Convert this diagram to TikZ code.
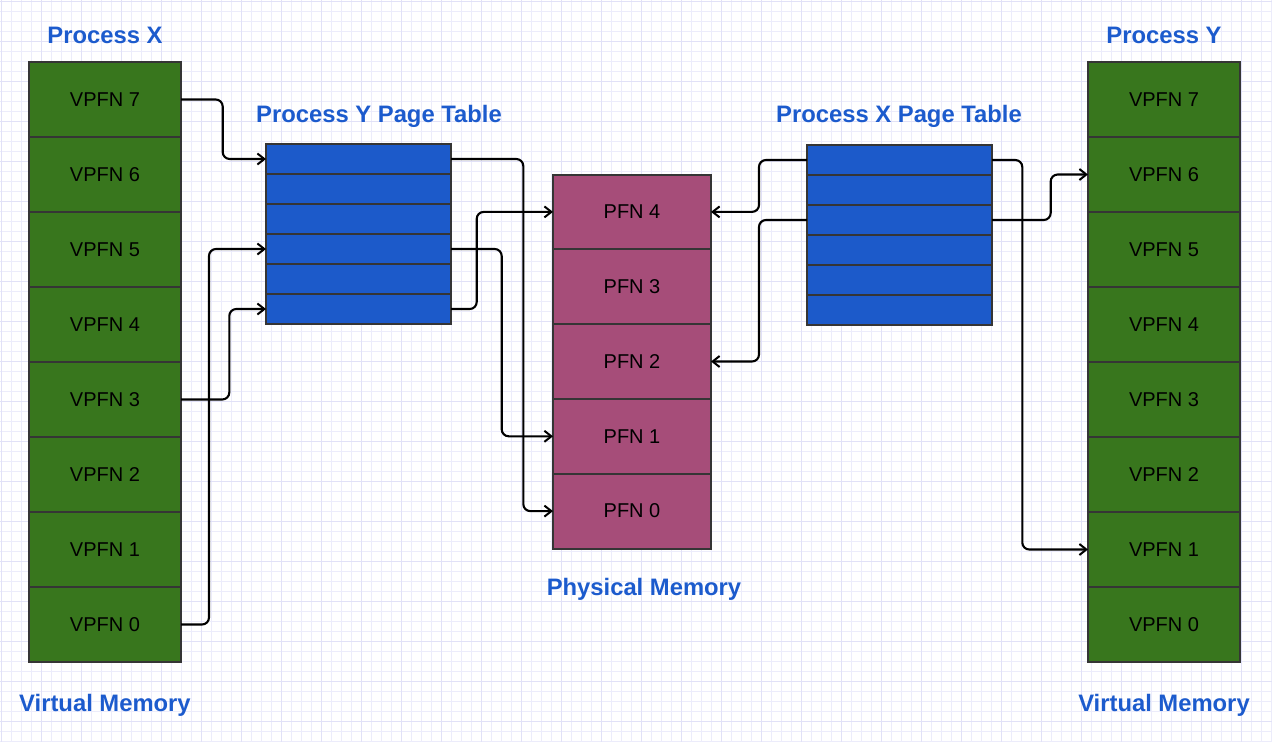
\documentclass[tikz,border=0pt]{standalone}
\usepackage{fontspec}
\setmainfont{Liberation Sans}
\usetikzlibrary{arrows.meta}
\definecolor{gridminor}{HTML}{ECECFB}
\definecolor{gridmajor}{HTML}{E1E1F7}
\definecolor{vgreen}{HTML}{38761D}
\definecolor{ptblue}{HTML}{1C5ACA}
\definecolor{pmag}{HTML}{A64D79}
\definecolor{bord}{HTML}{353535}
\definecolor{ttl}{HTML}{1C5BCD}
\tikzset{
  cellbox/.style={draw=bord, line width=2pt, inner sep=0pt, outer sep=0pt,
    font=\fontsize{20}{24}\selectfont, text=black},
  vcell/.style={cellbox, fill=vgreen, minimum width=152pt, minimum height=75pt},
  ptrow/.style={cellbox, fill=ptblue, minimum width=185pt, minimum height=30pt},
  pcell/.style={cellbox, fill=pmag, minimum width=158pt, minimum height=74.8pt},
  ttltext/.style={text=ttl, font=\fontsize{23.8}{28}\selectfont\bfseries, inner sep=0pt},
  conn/.style={draw=black, line width=2.1pt, rounded corners=7pt,
    -{Straight Barb[length=7pt,width=11pt,line width=2pt]}}
}
\begin{document}
\begin{tikzpicture}[x=1pt,y=-1pt]
\useasboundingbox (0,0) rectangle (1272,742);
\fill[white] (0,0) rectangle (1272,742);
% grid
\foreach \i in {0,...,127} {
  \draw[gridminor, line width=1pt] ({1.7+10*\i},0) -- ({1.7+10*\i},742);
}
\foreach \j in {0,...,74} {
  \draw[gridminor, line width=1pt] (0,{1.7+10*\j}) -- (1272,{1.7+10*\j});
}
\foreach \i in {0,...,31} {
  \draw[gridmajor, line width=1pt] ({1.7+40*\i},0) -- ({1.7+40*\i},742);
}
\foreach \j in {0,...,18} {
  \draw[gridmajor, line width=1pt] (0,{1.7+40*\j}) -- (1272,{1.7+40*\j});
}

% left virtual memory (Process X)
\foreach \k in {7,...,0} {
  \node[vcell] (lx\k) at (105,{99.5+(7-\k)*75}) {VPFN \k};
}
% right virtual memory (Process Y)
\foreach \k in {7,...,0} {
  \node[vcell] (rx\k) at (1164,{99.5+(7-\k)*75}) {VPFN \k};
}
% Process Y page table
\foreach \k in {1,...,6} {
  \node[ptrow] (yt\k) at (358.5,{159+(\k-1)*30}) {};
}
% Process X page table
\foreach \k in {1,...,6} {
  \node[ptrow] (xt\k) at (899.5,{160+(\k-1)*30}) {};
}
% physical memory
\foreach \k in {4,...,0} {
  \node[pcell] (pf\k) at (632,{211.9+(4-\k)*74.8}) {PFN \k};
}

% titles
\node[ttltext] (tpx) at (105,35.5) {Process X};
\node[ttltext] (tpy) at (1164,35.5) {Process Y};
\node[ttltext] (typt) at (379,116) {Process Y Page Table};
\node[ttltext] (txpt) at (899,116) {Process X Page Table};
\node[ttltext] (tpm) at (644,589) {Physical Memory};
\node[ttltext] (tvml) at (105,705) {Virtual Memory};
\node[ttltext] (tvmr) at (1164,705) {Virtual Memory};

% connectors
\draw[conn] (lx7.east) -- ++(41.7,0) |- (yt1.west);
\draw[conn] (lx0.east) -- ++(28,0) |- (yt4.west);
\draw[conn] (lx3.east) -- ++(48.3,0) |- (yt6.west);
\draw[conn] (yt1.east) -- ++(72.3,0) |- (pf0.west);
\draw[conn] (yt4.east) -- ++(50.7,0) |- (pf1.west);
\draw[conn] (yt6.east) -- ++(25.7,0) |- (pf4.west);
\draw[conn] (xt1.west) -- ++(-48,0) |- (pf4.east);
\draw[conn] (xt3.west) -- ++(-48,0) |- (pf2.east);
\draw[conn] (xt1.east) -- ++(30.3,0) |- (rx1.west);
\draw[conn] (xt3.east) -- ++(58.7,0) |- (rx6.west);
\end{tikzpicture}
\end{document}
